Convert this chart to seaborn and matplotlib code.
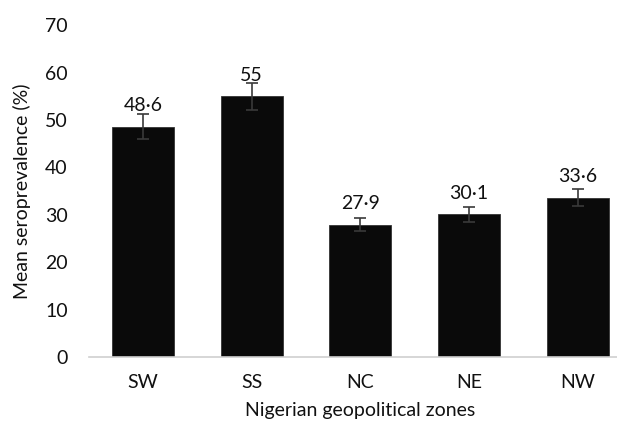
import matplotlib
matplotlib.use("Agg")
import matplotlib.pyplot as plt
import seaborn as sns
import pandas as pd

zones = ["SW", "SS", "NC", "NE", "NW"]
means = [48.6, 55.0, 27.9, 30.1, 33.6]
errors = [2.7, 2.8, 1.4, 1.6, 1.8]
labels = ["48·6", "55", "27·9", "30·1", "33·6"]
yticks = [0, 10, 20, 30, 40, 50, 60, 70]

sns.set_theme(style="white")
plt.rcParams['font.family'] = ['Lato', 'DejaVu Sans']

df = pd.DataFrame({"zone": zones, "mean": means})

fig = plt.figure(figsize=(6.17, 4.30), dpi=100)
ax = fig.add_axes([0.1436, 0.1698, 0.8807, 0.7716])

sns.barplot(data=df, x="zone", y="mean", order=zones, color="#0a0a0a",
            width=0.57, errorbar=None, saturation=1, ax=ax, edgecolor="#333333", linewidth=0.6)
ax.errorbar(range(len(zones)), means, yerr=errors, fmt="none",
            ecolor="#3a3a3a", elinewidth=1.2, capsize=4, capthick=1.2)

for i, (m, lab) in enumerate(zip(means, labels)):
    ax.annotate(lab, (i, m), xytext=(0, 9), textcoords="offset points",
                ha="center", va="bottom", fontsize=14, color="#111111")

ax.set_xlim(-0.5, 4.5)
ax.set_ylim(0, 70)
ax.set_yticks(yticks)
ax.tick_params(axis="y", length=0, pad=15, labelsize=14, colors="#111111")
ax.tick_params(axis="x", length=0, pad=12, labelsize=14, colors="#111111")
for s in ["top", "right", "left"]:
    ax.spines[s].set_visible(False)
ax.spines["bottom"].set_color("#cfcfcf")
ax.spines["bottom"].set_linewidth(1.2)
ax.set_xlabel("Nigerian geopolitical zones", fontsize=14, color="#111111", labelpad=8)
ax.set_ylabel("Mean seroprevalence (%)", fontsize=14, color="#111111", labelpad=10)

fig.savefig("out.png", dpi=100)
